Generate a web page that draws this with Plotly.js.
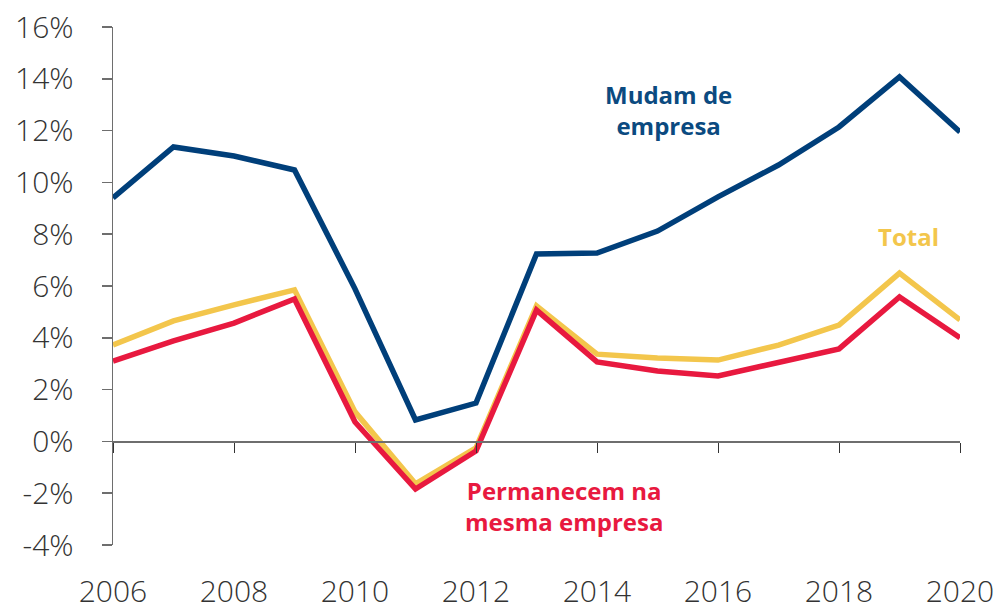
<!DOCTYPE html>
<html><head><meta charset="utf-8">
<script src="https://cdn.plot.ly/plotly-3.0.1.min.js"></script>
<style>html,body{margin:0;padding:0;background:#fff;}#c{width:999px;height:607px;}</style>
</head><body><div id="c"></div>
<script>
const years = [2006,2007,2008,2009,2010,2011,2012,2013,2014,2015,2016,2017,2018,2019,2020];
const mudam = [9.4,11.37,11.02,10.48,5.89,0.83,1.48,7.24,7.27,8.12,9.44,10.67,12.14,14.07,11.95];
const total = [3.72,4.65,5.27,5.85,1.14,-1.64,-0.25,5.23,3.37,3.22,3.14,3.72,4.49,6.5,4.69];
const permanecem = [3.1,3.88,4.57,5.5,0.75,-1.84,-0.37,5.07,3.07,2.72,2.53,3.03,3.57,5.58,4.0];
const yTicks = [-4,-2,0,2,4,6,8,10,12,14,16];
const xTicks = [2006,2008,2010,2012,2014,2016,2018,2020];

const cBlue = '#003f7a', cYellow = '#f3c64c', cRed = '#e8193f';
const traces = [
  {x: years, y: total, mode: 'lines', line: {color: cYellow, width: 5.5}, hoverinfo:'skip'},
  {x: years, y: permanecem, mode: 'lines', line: {color: cRed, width: 5.5}, hoverinfo:'skip'},
  {x: years, y: mudam, mode: 'lines', line: {color: cBlue, width: 5.5}, hoverinfo:'skip'}
];
const font = {family: '"Open Sans", sans-serif', size: 30, color: '#333', weight: 300};
const annFont = (c) => ({family: '"Open Sans", sans-serif', size: 24, color: c, weight: 700});
const layout = {
  width: 999, height: 607,
  margin: {l: 113, r: 39, t: 27, b: 62},
  showlegend: false,
  paper_bgcolor: '#fff', plot_bgcolor: '#fff',
  font: font,
  xaxis: {
    range: [2006, 2020], tickvals: xTicks, ticktext: xTicks.map(String),
    showgrid: false, zeroline: false, showline: false, ticks: '',
    ticklabelstandoff: 26, tickfont: font
  },
  xaxis2: {
    overlaying: 'x', matches: 'x', anchor: 'free', position: 0.2, side: 'bottom',
    range: [2006, 2020], tickvals: xTicks, showticklabels: false,
    showgrid: false, zeroline: false, showline: true, linecolor: '#6e6e6e', linewidth: 1.5,
    ticks: 'outside', ticklen: 10, tickcolor: '#333', tickwidth: 1
  },
  yaxis: {
    range: [-4, 16], tickvals: yTicks, ticktext: yTicks.map(v => v + '%'),
    showgrid: false, zeroline: false, showline: true, linecolor: '#6e6e6e', linewidth: 1.5,
    ticks: 'outside', ticklen: 10, tickcolor: '#6e6e6e', tickwidth: 1.5,
    ticklabelstandoff: 22, tickfont: font
  },
  annotations: [
    {x: 2015.18, y: 12.8, xref: 'x', yref: 'y', text: 'Mudam de<br>empresa', showarrow: false,
     font: annFont('#0b4a80'), align: 'center'},
    {x: 2019.15, y: 7.9, xref: 'x', yref: 'y', text: 'Total', showarrow: false,
     font: annFont(cYellow), align: 'center'},
    {x: 2013.45, y: -2.5, xref: 'x', yref: 'y', text: 'Permanecem na<br>mesma empresa', showarrow: false,
     font: annFont(cRed), align: 'center'}
  ]
};
// invisible trace on xaxis2 so the zero-line axis renders
traces.push({x: [2006], y: [0], xaxis: 'x2', mode: 'markers', marker: {opacity: 0}, hoverinfo: 'skip'});
Plotly.newPlot('c', traces, layout, {staticPlot: true});
</script></body></html>
